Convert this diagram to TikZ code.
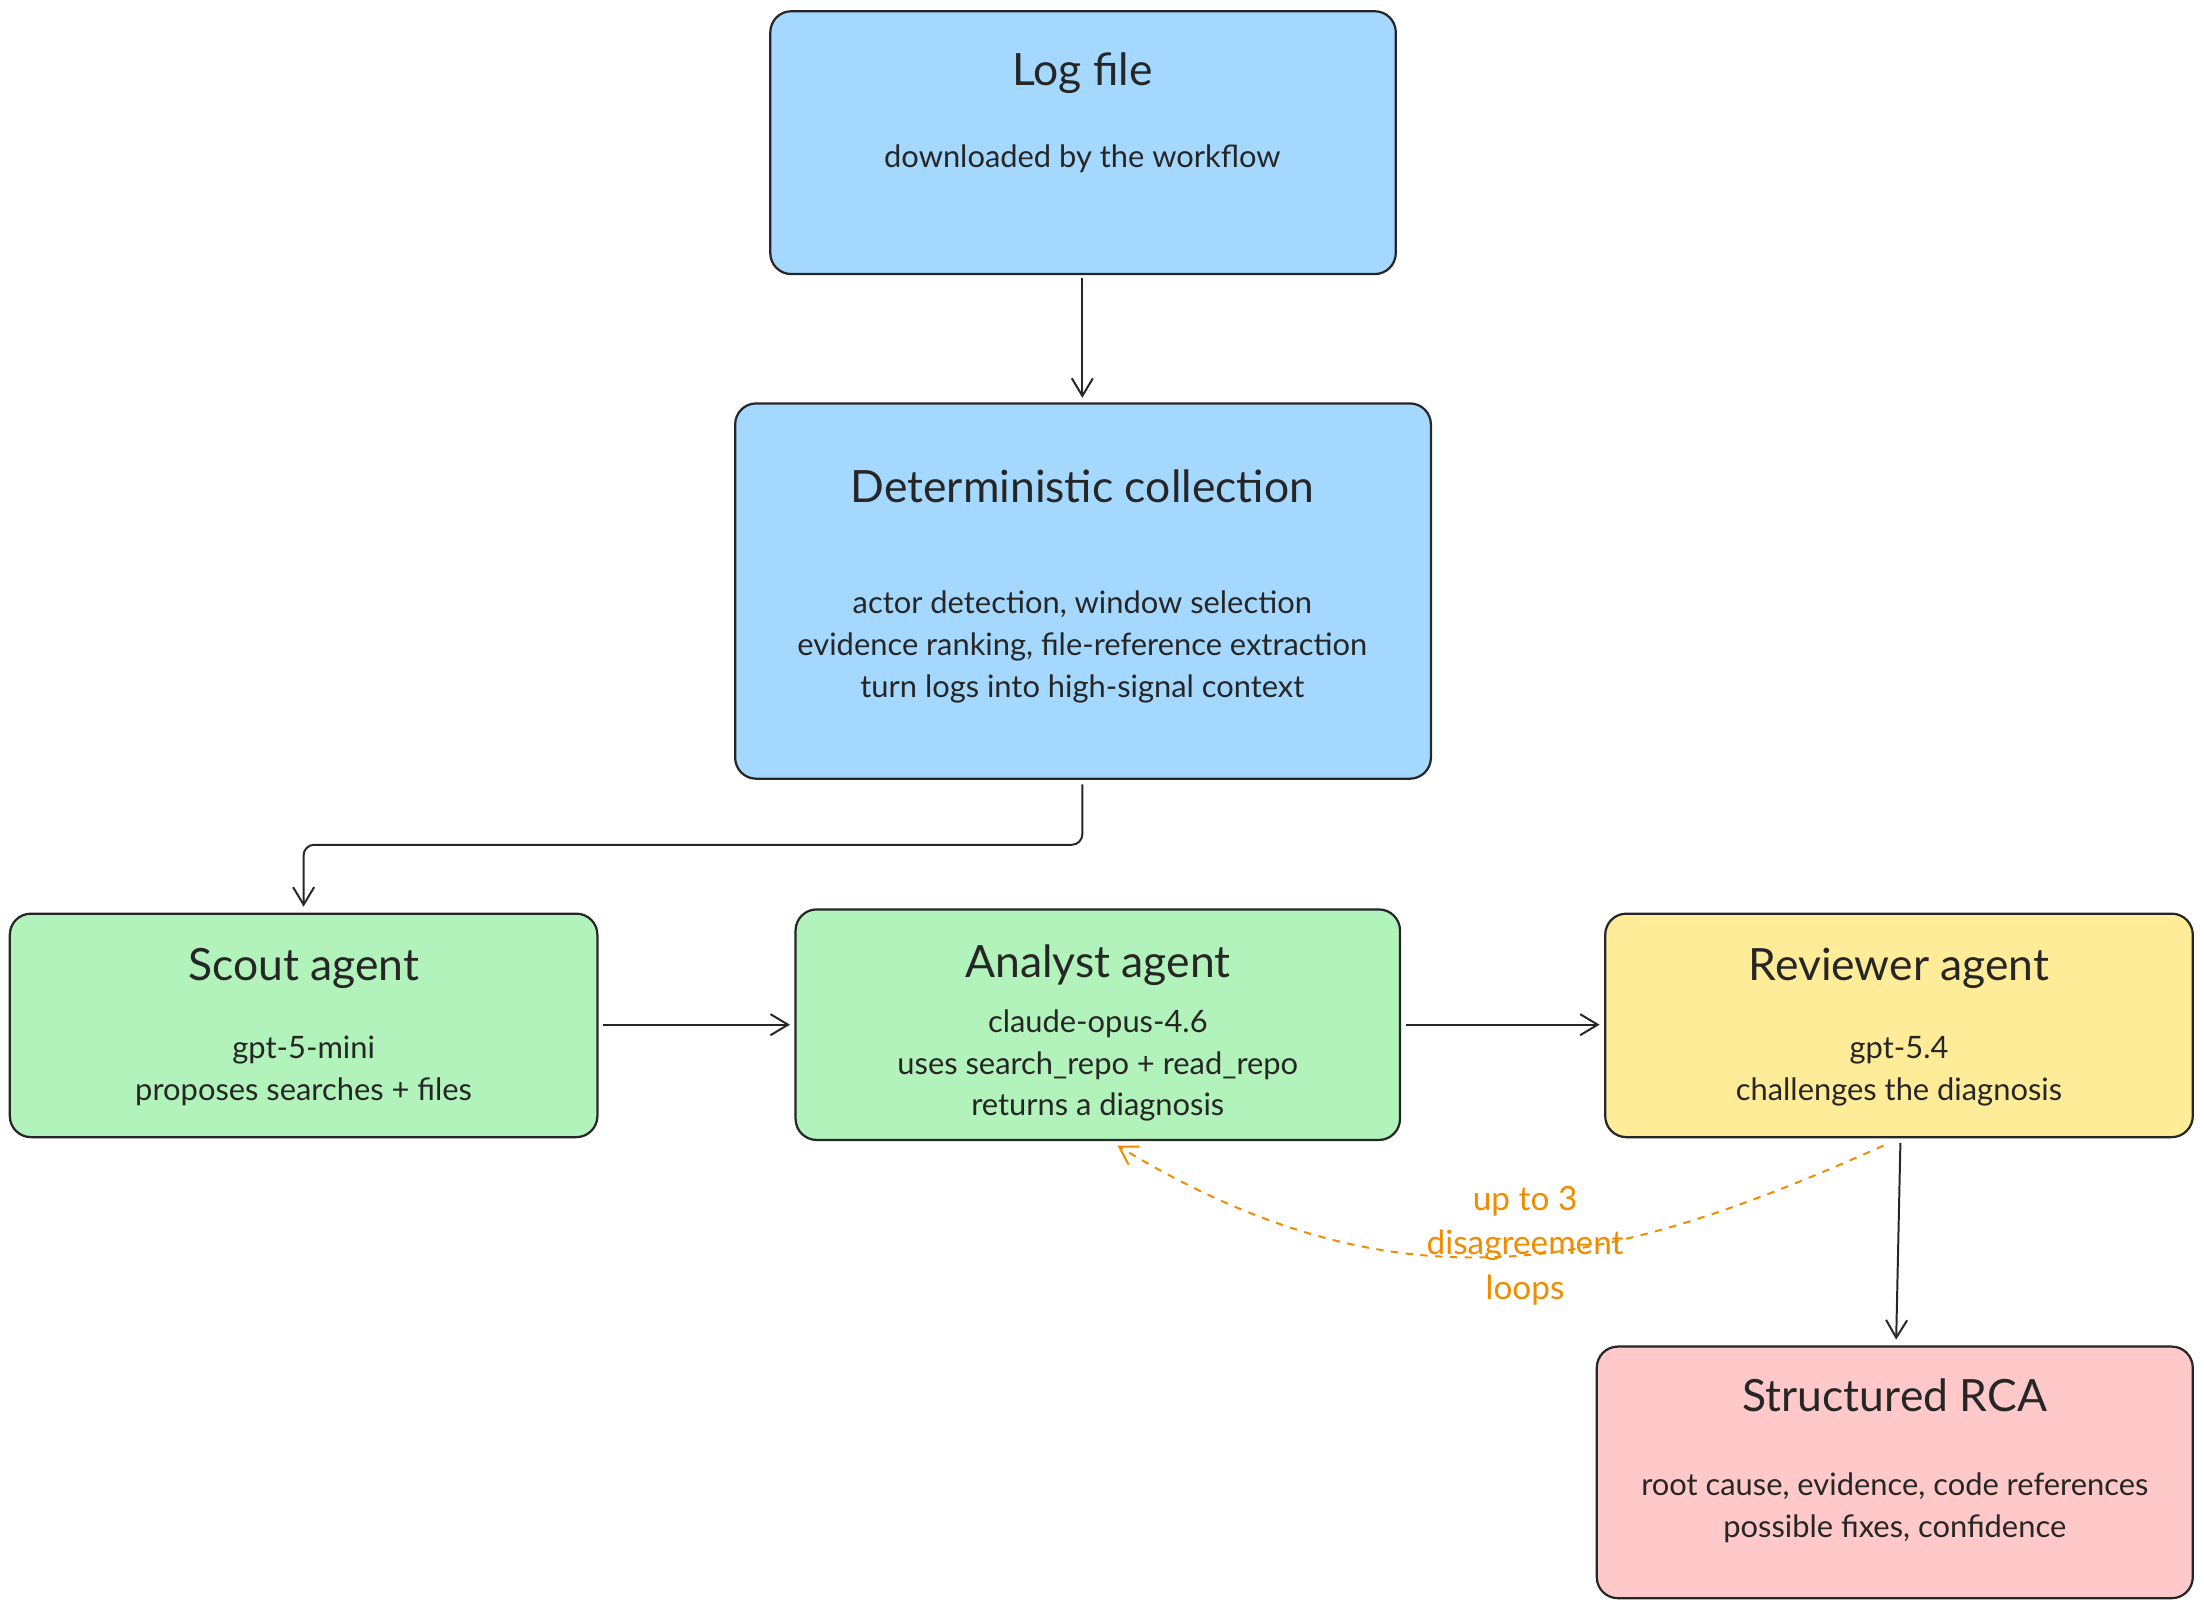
\documentclass[tikz,border=0pt]{standalone}
\usepackage{fontspec}
\setmainfont{Lato}
\usetikzlibrary{arrows.meta}
\definecolor{boxblue}{HTML}{A5D8FF}
\definecolor{boxgreen}{HTML}{B2F2BB}
\definecolor{boxyellow}{HTML}{FFEC99}
\definecolor{boxred}{HTML}{FFC9C9}
\definecolor{loopcol}{HTML}{F08C00}
\begin{document}
\begin{tikzpicture}
    [
    x=0.02cm,y=-0.02cm,
    box/.style={draw=black!85,line width=0.9pt,rounded corners=0.3cm,anchor=north west},
    title/.style={font=\fontsize{18}{22}\selectfont,text=black!85},
    body/.style={font=\fontsize{12.5}{17}\selectfont,align=center,text=black!85},
    link/.style={draw=black!85,line width=0.8pt,-{Straight Barb[length=2.5mm,width=3mm]}},
    ]
    \useasboundingbox (0,0) rectangle (1568,1145);
    % boxes
    \draw[box,fill=boxblue] (548,8) rectangle (993,195);
    \draw[box,fill=boxblue] (523,287) rectangle (1018,554);
    \draw[box,fill=boxgreen] (7,650) rectangle (425,809);
    \draw[box,fill=boxgreen] (566,647) rectangle (996,811);
    \draw[box,fill=boxyellow] (1142,650) rectangle (1560,809);
    \draw[box,fill=boxred] (1136,958) rectangle (1560,1137);
    \coordinate (log) at (770,195);
    \coordinate (det) at (770,554);
    % texts
    \node[title] (logT) at (770,52) {Log file};
    \node[body] (logB) at (770,113) {downloaded by the workflow};
    \node[title] (detT) at (770,346) {Deterministic collection};
    \node[body] (detB) at (770,460) {actor detection, window selection\\evidence ranking, file-reference extraction\\turn logs into high-signal context};
    \node[title] (scoutT) at (216,689) {Scout agent};
    \node[body] (scoutB) at (216,762) {gpt-5-mini\\proposes searches + files};
    \node[title] (anaT) at (781,687) {Analyst agent};
    \node[body] (anaB) at (781,758) {claude-opus-4.6\\uses search\_repo + read\_repo\\returns a diagnosis};
    \node[title] (revT) at (1351,689) {Reviewer agent};
    \node[body] (revB) at (1351,762) {gpt-5.4\\challenges the diagnosis};
    \node[title] (rcaT) at (1348,993) {Structured RCA};
    \node[body] (rcaB) at (1348,1073) {root cause, evidence, code references\\possible fixes, confidence};
    % connectors
    \draw[link] (770,198) -- (770,283);
    \draw[link,rounded corners=0.15cm] (770,558) -- (770,601) -- (216,601) -- (216,645);
    \draw[link] (429,729) -- (562,729);
    \draw[link] (1000,729) -- (1138,729);
    \draw[link] (1352,813) -- (1349,953);
    \draw[loopcol,line width=0.8pt,dashed,-{Straight Barb[length=2.5mm,width=3mm]}]
      (1340,815) .. controls (1150,900) and (1000,940) .. (795,815);
    \node[body,text=loopcol,font=\fontsize{13.5}{18}\selectfont] (loopL) at (1085,886) {up to 3\\disagreement\\loops};
\end{tikzpicture}
\end{document}
